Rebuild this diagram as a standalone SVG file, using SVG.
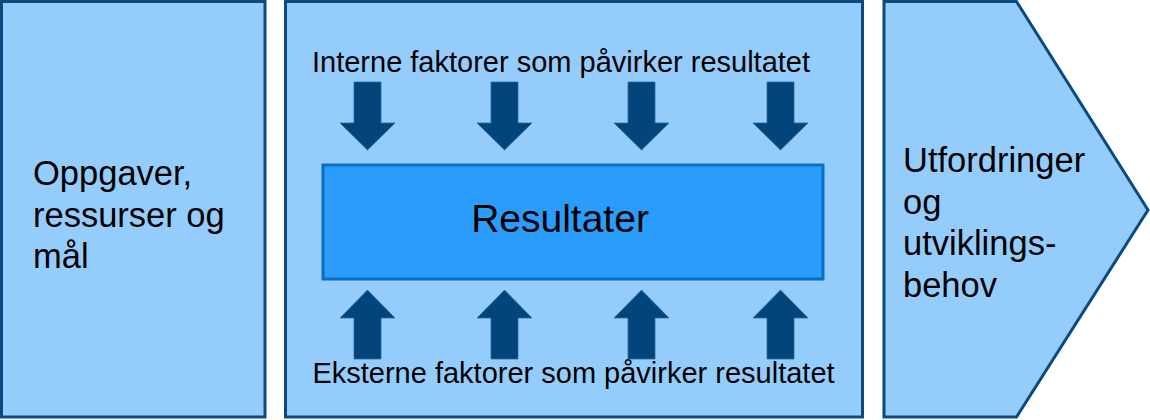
<svg xmlns="http://www.w3.org/2000/svg" width="1150" height="420" viewBox="0 0 1150 420">
<defs>
<style>
.box{fill:#94cdfc;stroke:#0b4a80;stroke-width:3}
.res{fill:#2a9cfc;stroke:#0a6fc0;stroke-width:3}
.arr{fill:#03457a;stroke:#2a6aa0;stroke-width:0.8}
text{font-family:"Liberation Sans",Arial,sans-serif;fill:#000}
.big{font-size:34.5px}
.mid{font-size:29px}
</style>
</defs>
<rect width="1150" height="420" fill="#fff"/>
<g id="left">
<rect class="box" x="1.5" y="1.5" width="263.5" height="415.5"/>
<text class="big" x="33" y="185">Oppgaver,</text>
<text class="big" x="33" y="226.5">ressurser og</text>
<text class="big" x="33" y="268">mål</text>
</g>
<g id="middle">
<rect class="box" x="285.5" y="1.5" width="577" height="415.5"/>
<text class="mid" x="561" y="72" text-anchor="middle">Interne faktorer som påvirker resultatet</text>
<text class="mid" x="573.5" y="383" text-anchor="middle">Eksterne faktorer som påvirker resultatet</text>
</g>
<g id="resultater">
<rect class="res" x="323" y="165" width="500" height="114"/>
<text x="560" y="231.5" text-anchor="middle" style="font-size:39px">Resultater</text>
</g>
<g id="right">
<path class="box" d="M884,1.5 H1016.5 L1148,210 L1016.5,417 H884 Z"/>
<text class="big" x="903" y="172">Utfordringer</text>
<text class="big" x="903" y="213.5">og</text>
<text class="big" x="903" y="255">utviklings-</text>
<text class="big" x="903" y="296.5">behov</text>
</g>
<g id="connectors">
<path class="arr" d="M354,82 H381 V123 H395 L367.5,150 L340,123 H354 Z"/>
<path class="arr" d="M491,82 H518 V123 H532 L504.5,150 L477,123 H491 Z"/>
<path class="arr" d="M628,82 H655 V123 H669 L641.5,150 L614,123 H628 Z"/>
<path class="arr" d="M767,82 H794 V123 H808 L780.5,150 L753,123 H767 Z"/>
<path class="arr" d="M354,359 H381 V318 H395 L367.5,290 L340,318 H354 Z"/>
<path class="arr" d="M491,359 H518 V318 H532 L504.5,290 L477,318 H491 Z"/>
<path class="arr" d="M628,359 H655 V318 H669 L641.5,290 L614,318 H628 Z"/>
<path class="arr" d="M767,359 H794 V318 H808 L780.5,290 L753,318 H767 Z"/>
</g>
</svg>
